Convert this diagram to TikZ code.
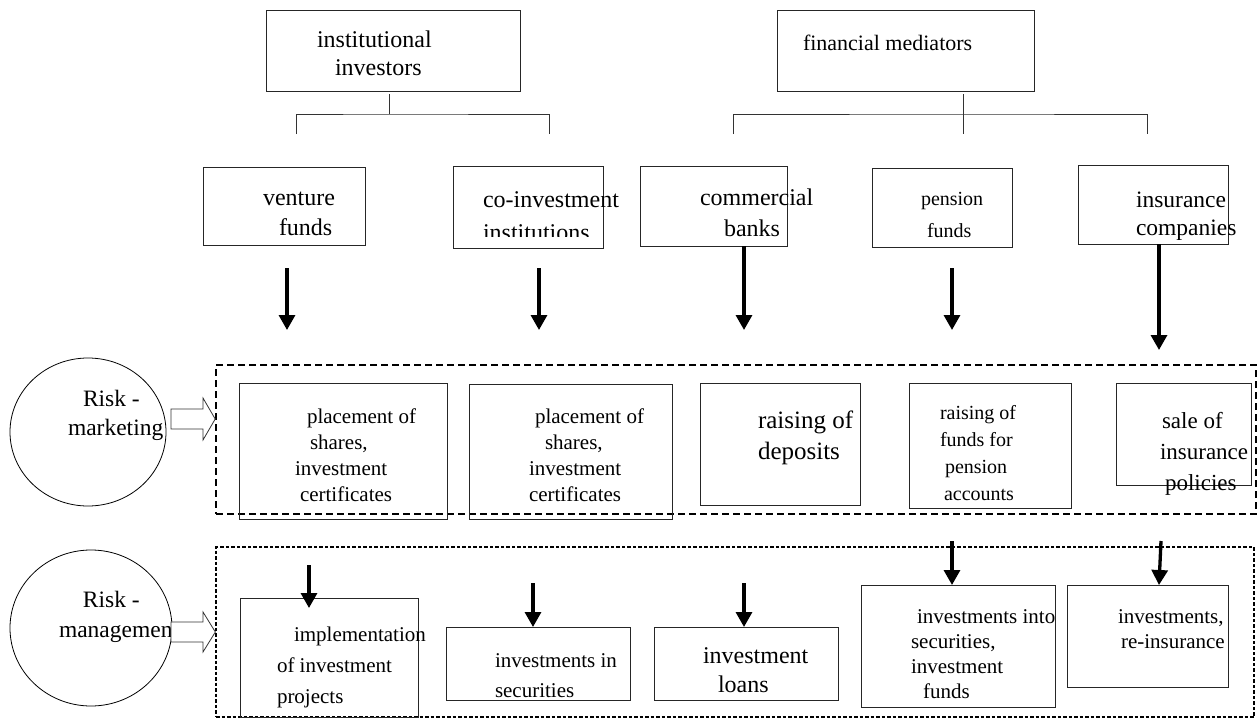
\documentclass[tikz,border=0pt]{standalone}
\usepackage{fontspec}
\setmainfont{Liberation Serif}
\usetikzlibrary{arrows.meta,fit,shapes.geometric}
\tikzset{
  box/.style={draw=black!85, line width=0.8pt, inner sep=0pt, outer sep=0pt},
  txt/.style={inner sep=0pt, outer sep=0pt, align=left, anchor=base west},
  thinline/.style={draw=black!80, line width=0.8pt},
  thickarr/.style={line width=3.3pt, -{Triangle[width=16pt,length=15pt]}},
  bigdash/.style={draw, line width=1.6pt, dash pattern=on 7pt off 4pt},
  smalldash/.style={draw, line width=1.3pt, dash pattern=on 3.5pt off 2pt},
  risk/.style={draw, ellipse, line width=0.8pt, inner sep=0pt},
  hollow/.style={draw=black!80, fill=white, line width=0.8pt, line join=miter},
}
\newcommand\fs[2]{\fontsize{#1}{#2}\selectfont}
\begin{document}
\begin{tikzpicture}[x=1pt,y=-1pt]
\useasboundingbox (0,0) rectangle (1259,720);

% ---------- top level ----------
\node[box, fit={(266,10)(520,91)}] (ii) {};
\node[txt, font=\fs{24}{28}] (iit) at (317,75) {institutional\\\hspace*{18pt}investors};
\node[box, fit={(777,10)(1034,91)}] (fm) {};
\node[txt, font=\fs{22}{28}] (fmt) at (803,50) {financial mediators};

% tree connectors
\coordinate (iij) at (389,114);
\coordinate (iil) at (296,134);
\coordinate (iir) at (549,134);
\draw[thinline] (iij |- ii.south) ++(0,3) -- (iij);
\draw[thinline] (iil) |- (iij) -| (iir);
\coordinate (fmj) at (963,114);
\coordinate (fmc) at (963,134);
\coordinate (fml) at (733,134);
\coordinate (fmr) at (1147,134);
\draw[thinline] (fmj |- fm.south) ++(0,3) -- (fmc);
\draw[thinline] (fml) |- (fmj) -| (fmr);

% ---------- second level ----------
\node[box, fit={(203,167)(365,245)}] (vf) {};
\node[txt, font=\fs{24}{30}] (vft) at (263,235) {venture\\\hspace*{16pt}funds};
\node[box, fit={(453,166)(603,248)}] (ci) {};
\begin{scope}
\clip (440,150) rectangle (640,236);
\node[txt, font=\fs{24}{33}] (cit) at (483,240) {co-investment\\institutions};
\end{scope}
\node[box, fit={(640,166)(787,246)}] (cb) {};
\node[txt, font=\fs{24}{31}] (cbt) at (700,236) {commercial\\\hspace*{24pt}banks};
\node[box, fit={(872,168)(1012,247)}] (pf) {};
\node[txt, font=\fs{20}{32}] (pft) at (921,237) {pension\\\hspace*{6pt}funds};
\node[box, fit={(1078,165)(1228,244)}] (ic) {};
\node[txt, font=\fs{23.5}{28}] (ict) at (1136,235) {insurance\\companies};

% vertical arrows
\coordinate (a1s) at (287,268); \coordinate (a1e) at (287,330);
\coordinate (a2s) at (539,268); \coordinate (a2e) at (539,330);
\coordinate (a3e) at (744,330);
\coordinate (a4s) at (952,268); \coordinate (a4e) at (952,330);
\coordinate (a5e) at (1159,350);
\draw[thickarr] (a1s) -- (a1e);
\draw[thickarr] (a2s) -- (a2e);
\draw[thickarr] (a3e |- cb.south) -- (a3e);
\draw[thickarr] (a4s) -- (a4e);
\draw[thickarr] (a5e |- ic.south) -- (a5e);

% ---------- risk marketing ----------
\node[bigdash, fit={(216,365)(1256,514)}, inner sep=0pt] (mk) {};
\node[risk, minimum width=156pt, minimum height=148pt] (rmk) at (88,432) {};
\node[txt, font=\fs{23.5}{29}] (rmkt) at (68,435) {\hspace*{15pt}Risk -\\marketing};
\draw[hollow] (171,409) -- (203,409) -- (203,398) -- (mk.west |- 0,419) -- (203,440) -- (203,429) -- (171,429) -- cycle;

\node[box, fit={(239,383)(447,519)}] (pl1) {};
\node[txt, font=\fs{21}{26}] (pl1t) at (293,501) {\hspace*{14pt}placement of\\\hspace*{17pt}shares,\\\hspace*{2pt}investment\\\hspace*{7pt}certificates};
\node[box, fit={(469,384)(672,519)}] (pl2) {};
\node[txt, font=\fs{21}{26}] (pl2t) at (529,501) {\hspace*{6pt}placement of\\\hspace*{16pt}shares,\\investment\\certificates};
\node[box, fit={(700,383)(860,505)}] (dep) {};
\node[txt, font=\fs{25}{31}] (dept) at (758,459) {raising of\\deposits};
\node[box, fit={(909,383)(1071,508)}] (pen) {};
\node[txt, font=\fs{20}{27}] (pent) at (940,500) {raising of\\funds for\\\hspace*{5pt}pension\\\hspace*{4pt}accounts};
\node[box, fit={(1116,383)(1251,485)}] (sale) {};
\node[txt, font=\fs{23}{31}] (salet) at (1160,490) {\hspace*{2pt}sale of\\insurance\\\hspace*{5pt}policies};

% ---------- risk management ----------
\node[smalldash, fit={(216,547)(1254,717)}, inner sep=0pt] (mg) {};
\node[risk, minimum width=162pt, minimum height=156pt] (rmg) at (91,628) {};
\node[txt, font=\fs{23.5}{30}] (rmgt) at (59,637) {\hspace*{24pt}Risk -\\management};
\draw[hollow] (171,622) -- (203,622) -- (203,612) -- (mg.west |- 0,632) -- (203,652) -- (203,642) -- (171,642) -- cycle;

\node[box, fit={(240,598)(418,717)}] (imp) {};
\node[txt, font=\fs{21}{31}] (impt) at (277,703) {\hspace*{17pt}implementation\\of investment\\projects};
\node[box, fit={(446,627)(630,700)}] (sec) {};
\node[txt, font=\fs{21}{30}] (sect) at (495,697) {investments in\\securities};
\node[box, fit={(654,627)(838,700)}] (loan) {};
\node[txt, font=\fs{24}{29}] (loant) at (703,692) {investment\\\hspace*{15pt}loans};
\node[box, fit={(861,585)(1055,707)}] (into) {};
\node[txt, font=\fs{21}{25}] (intot) at (911,698) {\hspace*{6pt}investments into\\securities,\\investment\\\hspace*{12pt}funds};
\node[box, fit={(1067,585)(1228,687)}] (rei) {};
\node[txt, font=\fs{21}{25}] (reit) at (1118,648) {investments,\\\hspace*{3pt}re-insurance};

% arrows into lower boxes
\coordinate (b1s) at (309,565);
\coordinate (b1e) at (309,608);
\coordinate (b2s) at (533,583);
\coordinate (b3s) at (744,583);
\coordinate (b4s) at (952,541);
\coordinate (b5s) at (1161,541);
\coordinate (b5e) at (1159,585);
\draw[thickarr] (b1s) -- (b1e);
\draw[thickarr] (b2s) -- (b2s |- sec.north);
\draw[thickarr] (b3s) -- (b3s |- loan.north);
\draw[thickarr] (b4s) -- (b4s |- into.north);
\draw[thickarr] (b5s) -- (b5e);
\end{tikzpicture}
\end{document}
